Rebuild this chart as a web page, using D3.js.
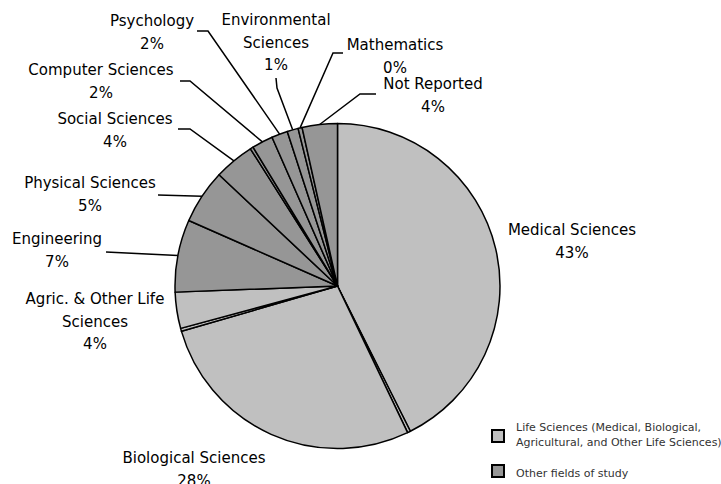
<!DOCTYPE html>
<html>
<head>
<meta charset="utf-8">
<script src="https://cdn.jsdelivr.net/npm/d3@7"></script>
<style>
  body { margin: 0; background: #fff; }
  svg { display: block; font-family: "DejaVu Sans", Verdana, sans-serif; }
</style>
</head>
<body>
<div id="chart"></div>
<script>
// Slices, clockwise from 12 o'clock ("" = unlabeled sliver)
const categories = ["Medical Sciences", "", "Biological Sciences", "", "Agric. & Other Life Sciences",
  "Engineering", "Physical Sciences", "Social Sciences", "", "Computer Sciences",
  "Psychology", "Environmental Sciences", "Mathematics", "Not Reported"];
const values = [42.6, 0.3, 27.6, 0.3, 3.6, 7.2, 5.4, 4.0, 0.3, 2.1, 1.6, 1.1, 0.4, 3.5];
const groups = ["life", "life", "life", "life", "life", "other", "other", "other", "other",
  "other", "other", "other", "other", "other"];
const legendLabels = [["Life Sciences (Medical, Biological,", "Agricultural, and Other Life Sciences)"],
  ["Other fields of study"]];

// Label placement (layout only): text lines, centre x, first baseline, leader start
const labelLayout = {
  "Medical Sciences": { lines: ["Medical Sciences"], x: 572, y: 235 },
  "Biological Sciences": { lines: ["Biological Sciences"], x: 194, y: 463 },
  "Agric. & Other Life Sciences": { lines: ["Agric. & Other Life", "Sciences"], x: 95, y: 304 },
  "Engineering": { lines: ["Engineering"], x: 57, y: 244, lead: [[106, 252]] },
  "Physical Sciences": { lines: ["Physical Sciences"], x: 90, y: 188, lead: [[158, 195]] },
  "Social Sciences": { lines: ["Social Sciences"], x: 115, y: 124, lead: [[178, 129], [190, 129]] },
  "Computer Sciences": { lines: ["Computer Sciences"], x: 101, y: 75, lead: [[180, 81], [190, 81]] },
  "Psychology": { lines: ["Psychology"], x: 152, y: 26, lead: [[197, 31], [208, 31]] },
  "Environmental Sciences": { lines: ["Environmental", "Sciences"], x: 276, y: 25, lead: [[276, 78], [277, 88]] },
  "Mathematics": { lines: ["Mathematics"], x: 395, y: 50, lead: [[343, 53], [333, 53]] },
  "Not Reported": { lines: ["Not Reported"], x: 433, y: 89, lead: [[376, 94], [360, 94]] }
};

const width = 721, height = 484;
const cx = 337.5, cy = 286, radius = 162.5;
const color = d3.scaleOrdinal().domain(["life", "other"]).range(["#c0c0c0", "#969696"]);

const svg = d3.select("#chart").append("svg")
  .attr("width", width)
  .attr("height", height);

const data = categories.map((c, i) => ({ name: c, value: values[i], group: groups[i] }));
const total = d3.sum(values);
const pie = d3.pie().sort(null).value(d => d.value);
const arcs = pie(data);
const arc = d3.arc().innerRadius(0).outerRadius(radius);
const edge = d3.arc().innerRadius(radius).outerRadius(radius);

const g = svg.append("g").attr("transform", `translate(${cx},${cy})`);

g.selectAll("path")
  .data(arcs)
  .join("path")
  .attr("d", arc)
  .attr("fill", d => color(d.data.group))
  .attr("stroke", "#000")
  .attr("stroke-width", 1.5)
  .attr("stroke-linejoin", "round");

// Leader lines and labels
const labelled = arcs.filter(d => d.data.name);
labelled.forEach(d => {
  const L = labelLayout[d.data.name];
  if (L.lead) {
    const [ex, ey] = edge.centroid(d);
    const pts = L.lead.concat([[ex + cx, ey + cy]]);
    svg.append("path")
      .attr("d", d3.line()(pts))
      .attr("fill", "none")
      .attr("stroke", "#000")
      .attr("stroke-width", 1.5);
  }
  const lines = L.lines.concat([Math.round(d.data.value / total * 100) + "%"]);
  const t = svg.append("text")
    .attr("text-anchor", "middle")
    .attr("font-size", 15)
    .attr("fill", "#000");
  lines.forEach((s, i) => {
    t.append("tspan").attr("x", L.x).attr("y", L.y + i * 22.5).text(s);
  });
});

// Legend
const legend = svg.append("g").attr("font-size", 11);
const legendY = [430, 465];
["life", "other"].forEach((k, i) => {
  legend.append("rect")
    .attr("x", 492).attr("y", legendY[i])
    .attr("width", 12).attr("height", 12)
    .attr("fill", color(k))
    .attr("stroke", "#000")
    .attr("stroke-width", 2);
  const t = legend.append("text").attr("fill", "#333");
  legendLabels[i].forEach((s, j) => {
    t.append("tspan")
      .attr("x", 516)
      .attr("y", i === 0 ? 431 + j * 15 : 477)
      .text(s);
  });
});
</script>
</body>
</html>
